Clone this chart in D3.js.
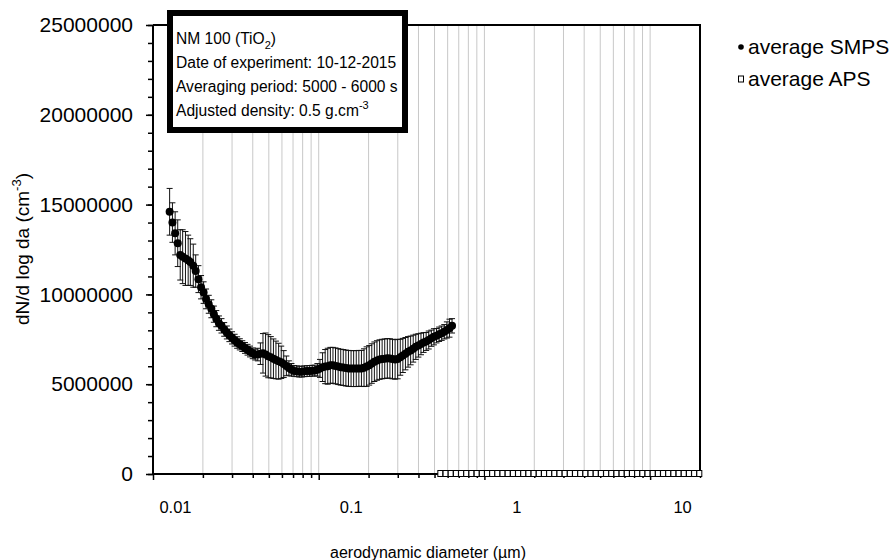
<!DOCTYPE html>
<html><head><meta charset="utf-8">
<script src="https://cdn.jsdelivr.net/npm/d3@7"></script>
<style>body{margin:0;background:#fff}svg{display:block;font-family:Arial,"Liberation Sans",sans-serif}</style>
</head><body><svg id="c" width="892" height="560"></svg>
<script>
// SMPS channel diameters (µm)
const smpsDiameter = [
0.0126,0.0131,0.0136,0.0141,0.0146,0.0151,0.0157,0.0163,0.0168,0.0175,
0.0181,0.0188,0.0195,0.0202,0.0209,0.0217,0.0225,0.0233,0.0241,0.0250,
0.0259,0.0269,0.0279,0.0289,0.0300,0.0311,0.0322,0.0334,0.0346,0.0359,
0.0372,0.0385,0.0400,0.0414,0.0429,0.0445,0.0461,0.0478,0.0496,0.0514,
0.0533,0.0552,0.0573,0.0594,0.0615,0.0638,0.0661,0.0685,0.0710,0.0737,
0.0764,0.0791,0.0820,0.0851,0.0882,0.0914,0.0947,0.0982,0.1018,0.1055,
0.1094,0.1134,0.1176,0.1219,0.1263,0.1310,0.1358,0.1407,0.1459,0.1512,
0.1568,0.1625,0.1685,0.1747,0.1811,0.1877,0.1946,0.2017,0.2091,0.2167,
0.2247,0.2329,0.2414,0.2503,0.2595,0.2690,0.2788,0.2890,0.2996,0.3106,
0.3220,0.3338,0.3460,0.3587,0.3718,0.3854,0.3995,0.4142,0.4294,0.4451,
0.4614,0.4783,0.4958,0.5140,0.5328,0.5523,0.5725,0.5935,0.6153,0.6378];
// average SMPS dN/dlogDa (cm-3)
const smpsValue = [
14.6e6,14.0e6,13.4e6,12.85e6,12.2e6,12.1e6,12.0e6,11.9e6,11.8e6,11.6e6,
11.3e6,10.85e6,10.4e6,10.1e6,9.75e6,9.45e6,9.2e6,8.9e6,8.65e6,8.4e6,
8.25e6,8.05e6,7.88e6,7.72e6,7.58e6,7.45e6,7.32e6,7.22e6,7.12e6,7.02e6,
6.92e6,6.82e6,6.72e6,6.65e6,6.65e6,6.7e6,6.72e6,6.65e6,6.56e6,6.5e6,
6.42e6,6.35e6,6.28e6,6.22e6,6.12e6,6.02e6,5.9e6,5.8e6,5.74e6,5.72e6,
5.7e6,5.7e6,5.72e6,5.73e6,5.74e6,5.75e6,5.76e6,5.8e6,5.88e6,5.95e6,
5.98e6,6.0e6,6.05e6,6.05e6,6.02e6,5.98e6,5.95e6,5.93e6,5.9e6,5.88e6,
5.87e6,5.87e6,5.87e6,5.88e6,5.88e6,5.92e6,5.98e6,6.05e6,6.15e6,6.25e6,
6.32e6,6.37e6,6.4e6,6.42e6,6.44e6,6.43e6,6.4e6,6.38e6,6.4e6,6.5e6,
6.6e6,6.7e6,6.8e6,6.88e6,6.98e6,7.08e6,7.16e6,7.24e6,7.32e6,7.38e6,
7.46e6,7.56e6,7.64e6,7.7e6,7.78e6,7.84e6,7.92e6,8.02e6,8.12e6,8.25e6];
// SMPS standard deviation (cm-3)
const smpsError = [
1.3e6,1.1e6,1.2e6,1.3e6,1.4e6,1.5e6,1.5e6,1.4e6,1.3e6,1.2e6,
0.9e6,0.75e6,0.65e6,0.6e6,0.55e6,0.5e6,0.5e6,0.45e6,0.45e6,0.4e6,
0.4e6,0.38e6,0.36e6,0.35e6,0.34e6,0.33e6,0.32e6,0.31e6,0.3e6,0.3e6,
0.3e6,0.3e6,0.3e6,0.3e6,0.35e6,0.6e6,1.1e6,1.2e6,1.2e6,1.15e6,
1.1e6,1.05e6,1.0e6,0.9e6,0.75e6,0.55e6,0.4e6,0.35e6,0.3e6,0.3e6,
0.3e6,0.3e6,0.3e6,0.3e6,0.3e6,0.3e6,0.3e6,0.35e6,0.5e6,0.8e6,
0.95e6,1.0e6,1.0e6,1.0e6,1.0e6,1.0e6,1.0e6,1.0e6,1.0e6,1.0e6,
1.0e6,1.0e6,1.0e6,1.0e6,1.0e6,1.05e6,1.1e6,1.1e6,1.1e6,1.1e6,
1.1e6,1.1e6,1.1e6,1.1e6,1.1e6,1.1e6,1.1e6,1.1e6,1.1e6,1.0e6,
0.95e6,0.9e6,0.85e6,0.8e6,0.75e6,0.7e6,0.65e6,0.6e6,0.55e6,0.5e6,
0.5e6,0.45e6,0.45e6,0.4e6,0.4e6,0.4e6,0.4e6,0.45e6,0.5e6,0.4e6];
// APS channel diameters (µm) and values (cm-3)
const apsDiameter = [0.542,0.583,0.626,0.673,0.723,0.777,0.835,0.898,0.965,1.037,
1.114,1.197,1.286,1.382,1.486,1.596,1.715,1.843,1.981,2.129,2.288,2.458,2.642,2.839,
3.051,3.278,3.523,3.786,4.068,4.371,4.698,5.048,5.425,5.829,6.264,6.732,7.234,7.774,
8.354,8.977,9.647,10.37,11.14,11.97,12.86,13.82,14.86,15.96,17.15,18.43,19.81];
const apsValue = [0,0,0,0,0,0,0,0,0,0,0,0,0,0,0,0,0,0,0,0,0,0,0,0,0,0,0,0,0,0,0,0,0,0,0,0,0,0,0,0,0,0,0,0,0,0,0,0,0,0,0];
const xTickValues = [0.01,0.1,1,10];
const xTickLabels = ["0.01","0.1","1","10"];
const yTickValues = [0,5000000,10000000,15000000,20000000,25000000];
const infoLines = ["NM 100 (TiO|2|)","Date of experiment: 10-12-2015","Averaging period: 5000 - 6000 s","Adjusted density: 0.5 g.cm|-3|"];
const legendLabels = ["average SMPS","average APS"];

const svg = d3.select("#c");
const L=153,R=700,T=25,B=474;
const x = d3.scaleLog().domain([0.01,20]).range([L,R]);
const y = d3.scaleLinear().domain([0,25000000]).range([B,T]);

// gridlines
const grid=[];
[0.01,0.1,1,10].forEach(d=>{for(let m=1;m<=9;m++){const v=+(m*d).toPrecision(3); if(v>0.01&&v<=20) grid.push(v);}});
svg.append("g").selectAll("line").data(grid).join("line")
  .attr("x1",d=>x(d)).attr("x2",d=>x(d)).attr("y1",T).attr("y2",B)
  .attr("stroke","#c8c8c8").attr("stroke-width",1);

// plot frame top/right
svg.append("path").attr("d",`M${L},${T}H${R}V${B}`).attr("fill","none").attr("stroke","#000").attr("stroke-width",2);

// y axis
const yMinor = d3.range(0,25000001,1000000);
svg.append("g").attr("transform",`translate(${L},0)`)
  .call(d3.axisLeft(y).tickValues(yMinor).tickSize(5).tickFormat(""))
  .call(g=>{g.select(".domain").remove();g.selectAll("line").attr("stroke","#000").attr("stroke-width",1.5);});
svg.append("g").attr("transform",`translate(${L},0)`)
  .call(d3.axisLeft(y).tickValues(yTickValues).tickSize(7).tickPadding(13).tickFormat(d3.format("d")))
  .call(g=>{g.select(".domain").attr("stroke-width",2).attr("d",`M0,${B}V${T}`);
    g.selectAll("line").attr("stroke","#000").attr("stroke-width",1.5);
    g.selectAll("text").attr("font-size",21).attr("fill","#000").attr("font-family","Arial, Liberation Sans, sans-serif");});

// x axis
const xMinor = grid.filter(v=>!xTickValues.includes(v));
svg.append("g").attr("transform",`translate(0,${B})`)
  .call(d3.axisBottom(x).tickValues(xMinor).tickSize(4).tickFormat(""))
  .call(g=>{g.select(".domain").remove();g.selectAll("line").attr("stroke","#000").attr("stroke-width",1.5);});
svg.append("g").attr("transform",`translate(0,${B})`)
  .call(d3.axisBottom(x).tickValues(xTickValues).tickSize(6).tickPadding(21).tickFormat((d,i)=>xTickLabels[i]))
  .call(g=>{g.select(".domain").attr("stroke-width",2).attr("d",`M${L},0H${R}`);
    g.selectAll("line").attr("stroke","#000").attr("stroke-width",1.5);
    g.selectAll("text").attr("font-size",16.5).attr("fill","#000").attr("font-family","Arial, Liberation Sans, sans-serif")
     .attr("dx",d=>d===0.01?22:32);});

// error bars
const smps = smpsDiameter.map((d,i)=>({d,v:smpsValue[i],e:smpsError[i]}));
const eb = svg.append("g").attr("stroke","#111").attr("stroke-width",1);
eb.selectAll("path").data(smps).join("path")
  .attr("d",p=>{const cx=x(p.d),y1=y(p.v+p.e),y2=y(p.v-p.e);return `M${cx},${y1}V${y2}M${cx-3},${y1}H${cx+3}M${cx-3},${y2}H${cx+3}`;})
  .attr("fill","none");
// SMPS markers
svg.append("g").selectAll("circle").data(smps).join("circle")
  .attr("cx",p=>x(p.d)).attr("cy",p=>y(p.v)).attr("r",4).attr("fill","#000");
// APS markers
const aps = apsDiameter.map((d,i)=>({d,v:apsValue[i]}));
svg.append("g").selectAll("rect").data(aps).join("rect")
  .attr("x",p=>x(p.d)-2.5).attr("y",p=>y(p.v)-3.5).attr("width",5).attr("height",6)
  .attr("fill","#fff").attr("stroke","#000").attr("stroke-width",1);

// info box
svg.append("rect").attr("x",170).attr("y",13).attr("width",235).attr("height",117)
  .attr("fill","#fff").attr("stroke","#000").attr("stroke-width",6);
const info = svg.append("g").attr("font-size",15.6).attr("fill","#000");
infoLines.forEach((ln,i)=>{
  const parts = ln.split("|");
  const t = info.append("text").attr("x",176).attr("y",44+i*24);
  t.append("tspan").text(parts[0]);
  if(parts.length>1){
    const sub = i===0;
    t.append("tspan").attr("font-size",11).attr("dy",sub?5:-7).text(parts[1]);
    t.append("tspan").attr("font-size",15.6).attr("dy",sub?-5:7).text(parts[2]);
  }
});

// legend
const lg = svg.append("g").attr("font-size",21).attr("fill","#000");
lg.append("circle").attr("cx",741).attr("cy",47).attr("r",2.8).attr("fill","#000");
lg.append("text").attr("x",748).attr("y",54).text(legendLabels[0]);
lg.append("rect").attr("x",738.5).attr("y",76).attr("width",5).attr("height",6).attr("fill","#fff").attr("stroke","#000").attr("stroke-width",1);
lg.append("text").attr("x",748).attr("y",86).text(legendLabels[1]);

// axis titles
const yt = svg.append("text").attr("transform","translate(29,249) rotate(-90)").attr("text-anchor","middle").attr("font-size",19).attr("fill","#000");
yt.append("tspan").text("dN/d log da (cm");
yt.append("tspan").attr("font-size",13).attr("dy",-8).text("-3");
yt.append("tspan").attr("font-size",19).attr("dy",8).text(")");
svg.append("text").attr("x",428).attr("y",558).attr("text-anchor","middle").attr("font-size",16).attr("fill","#000").text("aerodynamic diameter (µm)");
</script></body></html>
